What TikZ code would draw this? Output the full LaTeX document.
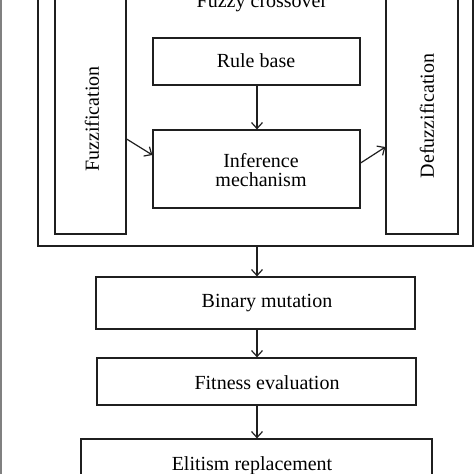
\documentclass[tikz,border=0pt]{standalone}
\usepackage{fontspec}
\setmainfont{Liberation Serif}
\usetikzlibrary{arrows.meta}
\tikzset{
  box/.style={draw=black!88, line width=1.2pt, rectangle, inner sep=0pt},
  lbl/.style={inner sep=0pt, font=\fontsize{20}{19.5}\selectfont, align=center},
  arr/.style={draw=black!88, line width=1.2pt, -{Straight Barb[length=6pt,width=11pt,line width=1.2pt]}}
}
\begin{document}
\begin{tikzpicture}[x=1pt,y=-1pt]
\useasboundingbox (0,0) rectangle (474,474);
\clip (0,0) rectangle (474,474);
\fill[white] (0,0) rectangle (474,474);
\fill[black!50] (0,0) rectangle (2,474);
% boxes
\node[box, minimum width=435pt, minimum height=266pt] (outer) at (255.5,113) {};
\node[box, minimum width=71pt, minimum height=254pt] (fuzz) at (90.5,107) {};
\node[box, minimum width=72pt, minimum height=254pt] (defuzz) at (422,107) {};
\node[box, minimum width=207pt, minimum height=47pt] (rule) at (256.5,61.5) {};
\node[box, minimum width=207pt, minimum height=78pt] (inf) at (256.5,169) {};
\node[box, minimum width=319pt, minimum height=52pt] (binary) at (255.5,303) {};
\node[box, minimum width=319pt, minimum height=47pt] (fitness) at (256.5,381.5) {};
\node[box, minimum width=351pt, minimum height=71pt] (elit) at (256.5,474.5) {};
% labels
\node[lbl, anchor=base] (tcross) at (262,7) {Fuzzy crossover};
\node[lbl] (trule) at (256,61) {Rule base};
\node[lbl] (tinf) at (261,170) {Inference\\mechanism};
\node[lbl, rotate=90] (tfuzz) at (92,119) {Fuzzification};
\node[lbl, rotate=90] (tdefuzz) at (427,116) {Defuzzification};
\node[lbl] (tbin) at (267,303) {Binary mutation};
\node[lbl] (tfit) at (267,383) {Fitness evaluation};
\node[lbl, anchor=base] (telit) at (252,470) {Elitism replacement};
% connectors
\draw[arr] (rule.south -| 257,0) -- (inf.north -| 257,0);
\draw[arr] (outer.south -| 257,0) -- (binary.north -| 257,0);
\draw[arr] (binary.south -| 257,0) -- (fitness.north -| 257,0);
\draw[arr] (fitness.south -| 257,0) -- (elit.north -| 257,0);
\draw[arr] (fuzz.east |- 0,139) -- (inf.west |- 0,155);
\draw[arr] (inf.east |- 0,163) -- (defuzz.west |- 0,147);
\end{tikzpicture}
\end{document}
